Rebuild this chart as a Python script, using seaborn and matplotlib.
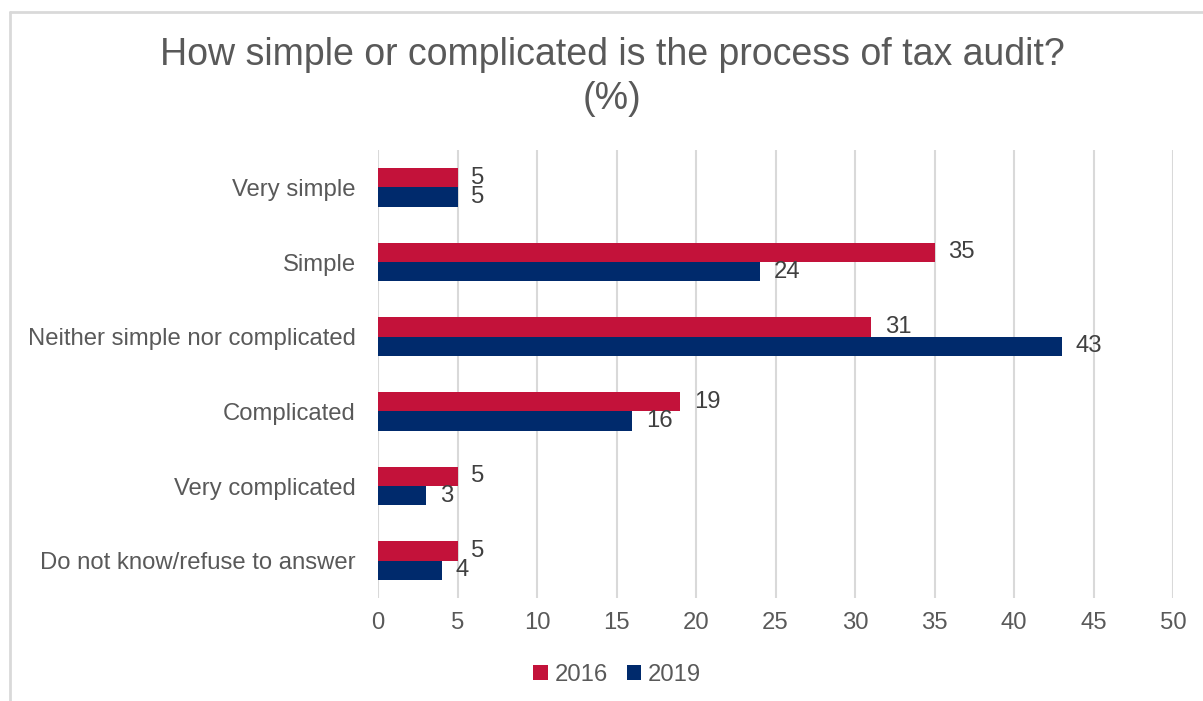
import matplotlib
matplotlib.use("Agg")
import matplotlib.pyplot as plt
from matplotlib.lines import Line2D
from matplotlib.patches import Patch
import seaborn as sns
import pandas as pd

categories = [
    "Very simple",
    "Simple",
    "Neither simple nor complicated",
    "Complicated",
    "Very complicated",
    "Do not know/refuse to answer",
]
values_2016 = [5, 35, 31, 19, 5, 5]
values_2019 = [5, 24, 43, 16, 3, 4]
years = ["2016", "2019"]
x_ticks = [0, 5, 10, 15, 20, 25, 30, 35, 40, 45, 50]

RED = "#C3123A"
NAVY = "#002A6C"
TEXT = "#595959"
GRID = "#D9D9D9"
FS = 17.2

df = pd.DataFrame({
    "category": categories * 2,
    "value": values_2016 + values_2019,
    "year": [years[0]] * len(categories) + [years[1]] * len(categories),
})

sns.set_theme(style="white")
plt.rcParams["font.family"] = ["Liberation Sans", "DejaVu Sans"]

fig = plt.figure(figsize=(12.03, 7.01), dpi=100)
ax = fig.add_axes([378 / 1203, 1 - 598 / 701, (1173 - 378) / 1203, (598 - 150) / 701])

sns.barplot(
    data=df, x="value", y="category", hue="year", order=categories,
    hue_order=years, palette=[RED, NAVY], orient="h", width=0.52,
    gap=0, dodge=True, legend=False, ax=ax, saturation=1,
    edgecolor="none", linewidth=0,
)

for container in ax.containers:
    ax.bar_label(container, labels=[f"{v:g}" for v in container.datavalues],
                 padding=10, fontsize=FS, color="#404040")

ax.set_xlim(0, 50)
ax.set_xticks(x_ticks)
ax.set_xticklabels([str(t) for t in x_ticks])
ax.set_ylim(len(categories) - 0.5, -0.5)
ax.grid(axis="x", color=GRID, linewidth=1.5)
ax.set_axisbelow(True)
for s in ax.spines.values():
    s.set_visible(False)
ax.tick_params(axis="x", length=0, pad=10, labelsize=FS, labelcolor=TEXT)
ax.tick_params(axis="y", length=0, pad=16, labelsize=FS, labelcolor=TEXT)
ax.set_xlabel("")
ax.set_ylabel("")

fig.text(612 / 1203, 1 - 77 / 701,
         "How simple or complicated is the process of tax audit?\n(%)",
         ha="center", va="center", fontsize=27, color=TEXT, linespacing=1.3)

handles = [Patch(facecolor=RED, edgecolor="none"), Patch(facecolor=NAVY, edgecolor="none")]
fig.legend(handles, years, loc="center", bbox_to_anchor=(617 / 1203, 1 - 675 / 701),
           ncol=2, frameon=False, fontsize=FS, labelcolor=TEXT,
           handlelength=0.62, handleheight=0.62, handletextpad=0.25,
           columnspacing=0.8)

# light frame around the chart area
fig.add_artist(Line2D([10 / 1203, 10 / 1203], [0, 1 - 12 / 701],
                      transform=fig.transFigure, color=GRID, linewidth=2))
fig.add_artist(Line2D([10 / 1203, 1], [1 - 12 / 701, 1 - 12 / 701],
                      transform=fig.transFigure, color=GRID, linewidth=2))

fig.savefig("out.png", dpi=100, facecolor="white")
